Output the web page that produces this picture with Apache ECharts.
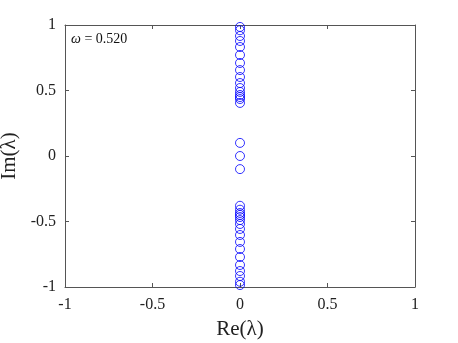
<!DOCTYPE html>
<html>
<head>
<meta charset="utf-8">
<script src="https://cdn.jsdelivr.net/npm/echarts@6/dist/echarts.min.js"></script>
<style>
html, body { margin: 0; padding: 0; background: #fff; }
#chart { width: 458px; height: 343px; }
</style>
</head>
<body>
<div id="chart"></div>
<script>
const upperIm = [0.985, 0.96, 0.916, 0.878, 0.832, 0.771, 0.71, 0.656, 0.603, 0.557, 0.519, 0.489, 0.466, 0.45, 0.435, 0.405];
const middleIm = [0.1, 0, -0.1];
const lowerIm = [-0.38, -0.41, -0.435, -0.45, -0.466, -0.489, -0.519, -0.557, -0.603, -0.656, -0.71, -0.771, -0.832, -0.878, -0.916, -0.96, -0.985];
const reValue = 0;
const ticks = [-1, -0.5, 0, 0.5, 1];
const omegaLabel = "0.520";

const font = "Liberation Serif";
let points = [];
upperIm.concat(middleIm, lowerIm).forEach((v) => {
    points.push([reValue, v]);
});

function tickFmt(v) {
    return ticks.indexOf(v) >= 0 ? String(v) : "";
}

let myChart = echarts.init(document.getElementById("chart"));
const axisBase = {
    min: -1,
    max: 1,
    interval: 0.5,
    axisLine: { show: true, onZero: false, lineStyle: { color: "#555", width: 1 } },
    axisTick: { show: true, inside: true, length: 4, lineStyle: { color: "#555" } },
    splitLine: { show: false },
};
myChart.setOption({
    animation: false,
    grid: { left: 65, right: 43, top: 25, bottom: 56, containLabel: false, outerBoundsMode: "none" },
    xAxis: [
        Object.assign({}, axisBase, {
            type: "value",
            position: "bottom",
            name: "Re(λ)",
            nameLocation: "middle",
            nameGap: 32,
            nameTextStyle: { fontFamily: font, fontSize: 21, color: "#222" },
            axisLabel: { fontFamily: font, fontSize: 16, color: "#222", margin: 10, formatter: tickFmt },
        }),
        Object.assign({}, axisBase, {
            type: "value",
            position: "top",
            axisLabel: { show: false },
        }),
    ],
    yAxis: [
        Object.assign({}, axisBase, {
            type: "value",
            position: "left",
            name: "Im(λ)",
            nameLocation: "middle",
            nameGap: 42,
            nameTextStyle: { fontFamily: font, fontSize: 21, color: "#222" },
            axisLabel: { fontFamily: font, fontSize: 16, color: "#222", margin: 9, formatter: tickFmt },
        }),
        Object.assign({}, axisBase, {
            type: "value",
            position: "right",
            axisLabel: { show: false },
        }),
    ],
    graphic: [
        {
            type: "text",
            left: 71,
            top: 32,
            style: {
                text: "{w|ω} = " + omegaLabel,
                fontFamily: font,
                fontSize: 14,
                fill: "#111",
                rich: { w: { fontFamily: font, fontStyle: "italic", fontSize: 14 } },
            },
        },
    ],
    series: [
        {
            type: "scatter",
            data: points,
            symbol: "circle",
            symbolSize: 9,
            itemStyle: { color: "transparent", borderColor: "#0000ff", borderWidth: 1 },
        },
    ],
});
</script>
</body>
</html>
